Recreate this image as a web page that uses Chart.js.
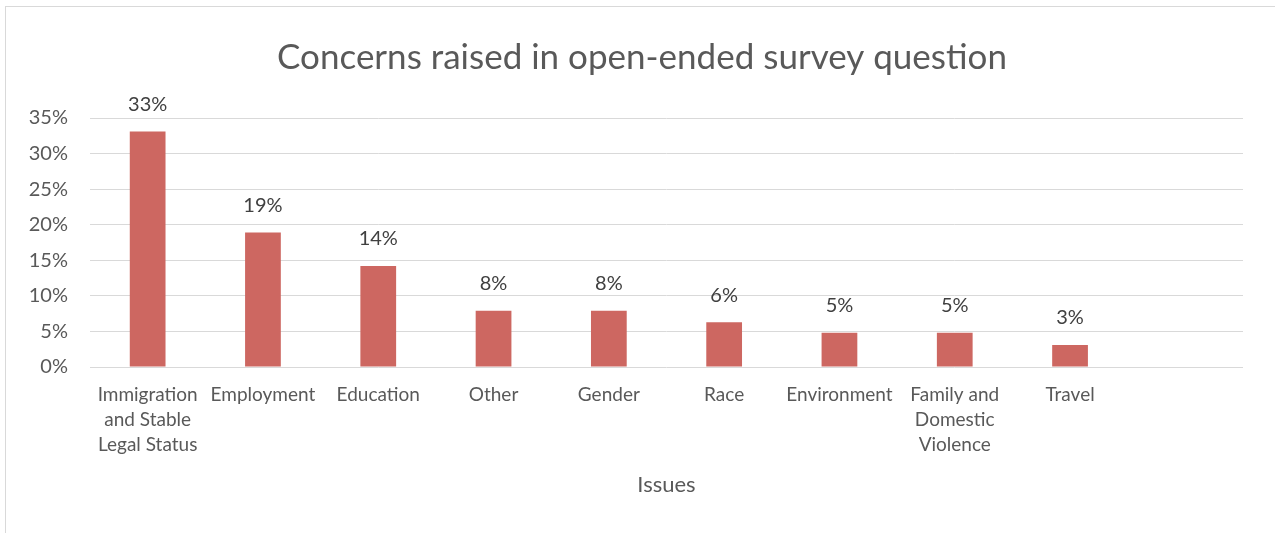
<!DOCTYPE html>
<html>
<head>
<meta charset="utf-8">
<script src="https://cdn.jsdelivr.net/npm/chart.js@4"></script>
<style>
  body { margin: 0; background: #fff; }
  #wrap { position: relative; width: 1275px; height: 533px; overflow: hidden; }
  #frame { position: absolute; left: 5px; top: 6px; width: 1300px; height: 560px; border: 1px solid #d9d9d9; pointer-events: none; }
</style>
</head>
<body>
<div id="wrap">
  <canvas id="issuesChart"></canvas>
  <div id="frame"></div>
</div>
<script>
// --- DATA ---
const categories = [
    ['Immigration', 'and Stable', 'Legal Status'],
    'Employment',
    'Education',
    'Other',
    'Gender',
    'Race',
    'Environment',
    ['Family and', 'Domestic', 'Violence'],
    'Travel',
    ''
];
const shares = [33.1, 18.9, 14.2, 7.9, 7.9, 6.3, 4.8, 4.8, 3.1, null];
const shareLabels = ['33%', '19%', '14%', '8%', '8%', '6%', '5%', '5%', '3%', ''];
const yTicks = [0, 5, 10, 15, 20, 25, 30, 35];
const chartTitle = 'Concerns raised in open-ended survey question';

const fontFamily = 'Lato, "Open Sans", sans-serif';

// draws the % value above each bar
const barValuePlugin = {
    id: 'barValues',
    afterDatasetsDraw(chart) {
        const ctx = chart.ctx;
        const meta = chart.getDatasetMeta(0);
        ctx.save();
        ctx.font = '20px ' + fontFamily;
        ctx.fillStyle = '#404040';
        ctx.textAlign = 'center';
        ctx.textBaseline = 'middle';
        meta.data.forEach((bar, i) => {
            if (shares[i] == null) return;
            ctx.fillText(shareLabels[i], bar.x, bar.y - 27);
        });
        ctx.restore();
    }
};

// title centred on the card, not on the plot
const cardTitlePlugin = {
    id: 'cardTitle',
    afterDraw(chart) {
        const ctx = chart.ctx;
        ctx.save();
        ctx.font = '35px ' + fontFamily;
        ctx.fillStyle = '#595959';
        ctx.textAlign = 'center';
        ctx.textBaseline = 'middle';
        ctx.fillText(chartTitle, 642, 58);
        ctx.restore();
    }
};

new Chart(document.getElementById('issuesChart'), {
    type: 'bar',
    data: {
        labels: categories,
        datasets: [{
            data: shares,
            backgroundColor: '#cd6761',
            barPercentage: 0.62,
            categoryPercentage: 0.5
        }]
    },
    options: {
        responsive: true,
        maintainAspectRatio: false,
        animation: false,
        layout: { padding: { left: 0, right: 32, top: 118, bottom: 0 } },
        plugins: {
            legend: { display: false },
            tooltip: { enabled: false },
            title: { display: false }
        },
        scales: {
            x: {
                grid: { display: false, drawTicks: false },
                border: { display: false },
                ticks: {
                    color: '#595959',
                    font: { family: fontFamily, size: 19, lineHeight: 1.33 },
                    padding: 15,
                    maxRotation: 0,
                    autoSkip: false
                },
                title: {
                    display: true,
                    text: 'Issues',
                    color: '#595959',
                    font: { family: fontFamily, size: 22 },
                    padding: { top: 0, bottom: 35 }
                },
                afterFit(scale) { scale.height = 166; }
            },
            y: {
                min: 0,
                max: 35,
                afterBuildTicks(scale) { scale.ticks = yTicks.map(v => ({ value: v })); },
                grid: { color: '#d9d9d9', lineWidth: 1, drawTicks: false },
                border: { display: false },
                ticks: {
                    color: '#595959',
                    font: { family: fontFamily, size: 20 },
                    padding: 22,
                    callback: v => v + '%'
                },
                afterFit(scale) { scale.width = 90; }
            }
        }
    },
    plugins: [barValuePlugin, cardTitlePlugin]
});
</script>
</body>
</html>
